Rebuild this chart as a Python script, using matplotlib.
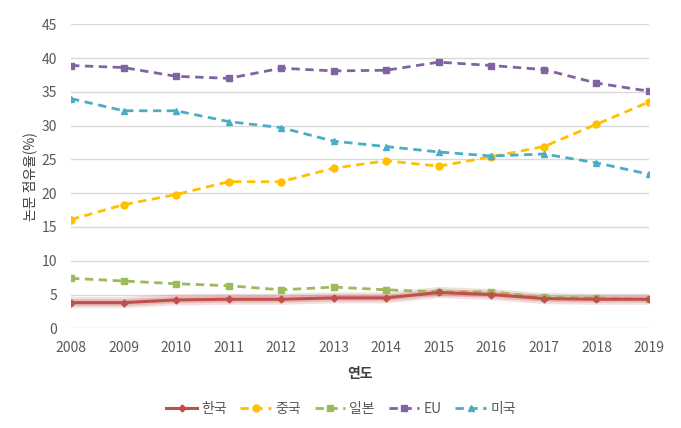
import numpy as np
import matplotlib
matplotlib.use("Agg")
import matplotlib.pyplot as plt

plt.rcParams['font.family'] = ['Noto Sans CJK KR', 'DejaVu Sans']

years = [2008, 2009, 2010, 2011, 2012, 2013, 2014, 2015, 2016, 2017, 2018, 2019]
korea = [3.8, 3.8, 4.2, 4.3, 4.3, 4.5, 4.5, 5.3, 5.0, 4.4, 4.3, 4.3]
china = [16.1, 18.3, 19.8, 21.7, 21.7, 23.7, 24.8, 24.0, 25.4, 26.9, 30.2, 33.5]
japan = [7.4, 7.0, 6.6, 6.3, 5.7, 6.1, 5.7, 5.4, 5.4, 4.6, 4.5, 4.3]
eu = [38.9, 38.6, 37.3, 37.0, 38.5, 38.1, 38.2, 39.4, 38.9, 38.3, 36.3, 35.1]
usa = [34.0, 32.2, 32.2, 30.6, 29.7, 27.7, 26.9, 26.1, 25.5, 25.8, 24.5, 22.8]

fig = plt.figure(figsize=(6.81, 4.28), dpi=100)
ax = fig.add_axes([71 / 681, 1 - 328.3 / 428, (649 - 71) / 681, (328.3 - 24.3) / 428])

# soft glow under the Korea line
ax.plot(years, korea, color="#C0504D", linewidth=8, alpha=0.18, solid_capstyle="round", zorder=2)
ax.plot(years, korea, color="#C0504D", linewidth=5, alpha=0.25, solid_capstyle="round", zorder=2)
ax.plot(years, korea, color="#C0504D", linewidth=2.2, marker="D", markersize=3.5,
        label="한국", zorder=6)
ax.plot(years, china, color="#FFC000", linewidth=2, linestyle=(0, (3, 2)), marker="o",
        markersize=5, label="중국", zorder=4)
ax.plot(years, japan, color="#9BBB59", linewidth=2, linestyle=(0, (3, 2)), marker="s",
        markersize=5, label="일본", zorder=5)
ax.plot(years, eu, color="#8064A2", linewidth=2, linestyle=(0, (3, 2)), marker="s",
        markersize=5, label="EU", zorder=4)
ax.plot(years, usa, color="#4BACC6", linewidth=2, linestyle=(0, (3, 2)), marker="^",
        markersize=5, label="미국", zorder=4)

ax.set_xlim(2008, 2019)
ax.set_ylim(0, 45)
ax.set_xticks(years)
ax.set_yticks(np.arange(0, 46, 5))
ax.grid(axis="y", color="#D9D9D9", linewidth=1)
ax.set_axisbelow(True)
for s in ax.spines.values():
    s.set_visible(False)
ax.tick_params(length=0, colors="#595959", labelsize=10)
ax.tick_params(axis="y", pad=10)
ax.tick_params(axis="x", pad=9)

ax.set_ylabel("논문 점유율(%)", fontsize=10, color="#404040", labelpad=3)
ax.set_xlabel("연도", fontsize=10, color="#404040", fontweight="bold", labelpad=9)

leg = fig.legend(loc="center", bbox_to_anchor=(341 / 681, 1 - 409 / 428), ncol=5,
                 frameon=False, fontsize=10, handlelength=2.2, columnspacing=1.0,
                 handletextpad=0.3)
for t in leg.get_texts():
    t.set_color("#595959")

plt.savefig("out.png", dpi=100)
